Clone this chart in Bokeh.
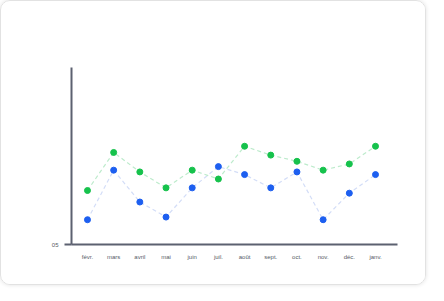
from bokeh.plotting import figure
from bokeh.models import Range1d, FixedTicker
from bokeh.embed import file_html
from bokeh.resources import INLINE

months = ["févr.", "mars", "avril", "mai", "juin", "juil.", "août", "sept.", "oct.", "nov.", "déc.", "janv."]
series_blue = [14, 42, 24, 15.5, 32, 44, 39.5, 32, 41, 14, 29, 39.5]
series_green = [30.5, 52, 41, 32, 42, 37, 55.5, 50.5, 47, 42, 45.5, 55.5]
y_ticks = [0]
y_tick_labels = ["05"]

xs = list(range(len(months)))

p = figure(width=426, height=285, output_backend="svg", toolbar_location=None,
           x_range=Range1d(-0.61, 11.84), y_range=Range1d(0, 100),
           min_border_left=70, min_border_right=30, min_border_top=66, min_border_bottom=42,
           background_fill_color="white", border_fill_color="white",
           styles={"border": "1px solid #e2e2e2", "border-radius": "10px",
                   "box-shadow": "0 0 4px rgba(0,0,0,0.12)", "overflow": "hidden"})
p.outline_line_color = None
p.grid.visible = False

p.line(xs, series_blue, line_color="#d3ddf7", line_width=1.2, line_dash="4 3")
p.line(xs, series_green, line_color="#bdebcc", line_width=1.2, line_dash="4 3")
p.scatter(xs, series_blue, size=6, fill_color="#1d5ff0", line_color="#1d5ff0")
p.scatter(xs, series_green, size=6, fill_color="#16c24c", line_color="#16c24c")

p.xaxis.ticker = FixedTicker(ticks=xs)
p.xaxis.major_label_overrides = {i: m for i, m in enumerate(months)}
p.xaxis.major_tick_line_color = None
p.xaxis.minor_tick_line_color = None
p.xaxis.axis_line_color = "#5c6170"
p.xaxis.axis_line_width = 2
p.xaxis.major_label_text_font_size = "6px"
p.xaxis.major_label_text_color = "#555a66"
p.xaxis.major_label_standoff = 3

p.yaxis.ticker = FixedTicker(ticks=y_ticks)
p.yaxis.major_label_overrides = {t: l for t, l in zip(y_ticks, y_tick_labels)}
p.yaxis.major_tick_out = 7
p.yaxis.major_tick_in = 0
p.yaxis.major_tick_line_color = "#5c6170"
p.yaxis.major_tick_line_width = 2
p.yaxis.minor_tick_line_color = None
p.yaxis.axis_line_color = "#5c6170"
p.yaxis.axis_line_width = 2
p.yaxis.major_label_text_font_size = "6px"
p.yaxis.major_label_text_color = "#555a66"
p.yaxis.major_label_standoff = 6

open("out.html", "w").write(file_html(p, INLINE))
